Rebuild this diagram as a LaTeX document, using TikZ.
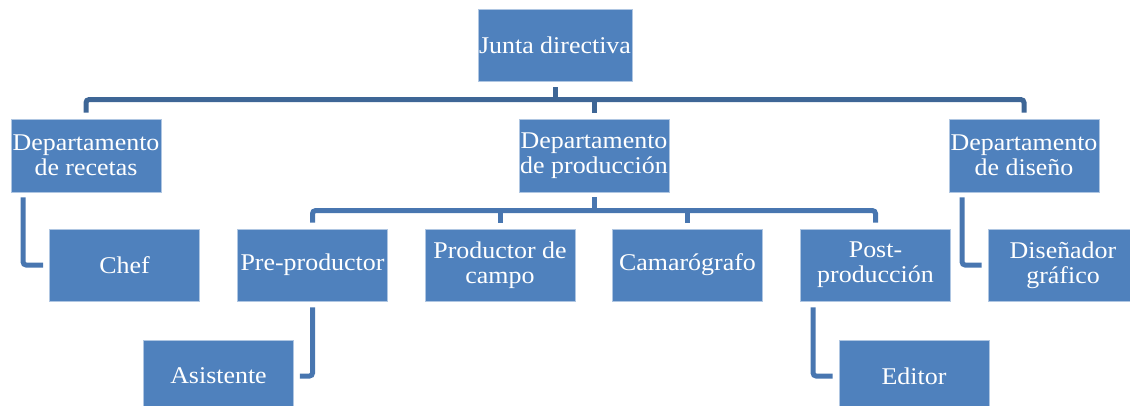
\documentclass[tikz,border=0pt]{standalone}
\usepackage{fontspec}
\setmainfont[FakeStretch=1.08]{Liberation Serif}
\definecolor{boxfill}{RGB}{79,129,189}
\definecolor{boxline}{RGB}{175,198,226}
\definecolor{conA}{RGB}{62,102,150}
\definecolor{conB}{RGB}{72,118,176}
\begin{document}
\begin{tikzpicture}[x=1pt,y=-1pt,
  orgbox/.style={rectangle, fill=boxfill, draw=boxline, line width=0.8pt,
    minimum width=150pt, minimum height=72pt, inner sep=1pt, align=center,
    text=white, font=\fontsize{24}{25}\selectfont},
  linkA/.style={draw=conA, line width=5pt, rounded corners=3pt},
  linkB/.style={draw=conB, line width=5pt, rounded corners=3pt}]
\useasboundingbox (0,0) rectangle (1130,405);
% level 0
\node[orgbox] (junta) at (555,45) {Junta directiva};
% level 1
\node[orgbox, minimum height=73pt] (recetas) at (86,155.5) {Departamento\\de recetas};
\node[orgbox, minimum height=73pt] (prod) at (594,155.5) {Departamento\\de producción};
\node[orgbox, minimum height=73pt] (diseno) at (1024,155.5) {Departamento\\de diseño};
% level 2
\node[orgbox] (chef) at (124.5,265) {Chef};
\node[orgbox] (pre) at (312.5,265) {Pre-productor};
\node[orgbox] (campo) at (500,265) {Productor de\\campo};
\node[orgbox] (cam) at (687.5,265) {Camarógrafo};
\node[orgbox] (post) at (875.5,265) {Post-\\producción};
\node[orgbox] (graf) at (1063,265) {Diseñador\\gráfico};
% level 3
\node[orgbox] (asist) at (218.5,376) {Asistente};
\node[orgbox] (editor) at (914,376) {Editor};
% level-1 connectors
\draw[linkA] ([yshift=6pt]recetas.north) -- ++(0,-13) -| ([yshift=6pt]diseno.north);
\draw[linkA] ([yshift=-6pt]junta.south) -- ++(0,13);
\draw[linkA] ([yshift=6pt]prod.north) -- ++(0,-13);
% level-2 connectors
\draw[linkB] ([yshift=6pt]pre.north) -- ++(0,-12) -| ([yshift=6pt]post.north);
\draw[linkB] ([yshift=-5pt]prod.south) -- ++(0,14);
\draw[linkB] ([yshift=6pt]campo.north) -- ++(0,-12);
\draw[linkB] ([yshift=6pt]cam.north) -- ++(0,-12);
% side connectors
\draw[linkB] ([xshift=12.5pt,yshift=-5pt]recetas.south west) |- ([xshift=-6pt]chef.west);
\draw[linkB] ([yshift=-6pt]pre.south) |- ([xshift=6pt]asist.east);
\draw[linkB] ([xshift=13pt,yshift=-6pt]post.south west) |- ([xshift=-6pt]editor.west);
\draw[linkB] ([xshift=13.5pt,yshift=-5pt]diseno.south west) |- ([xshift=-6pt]graf.west);
\end{tikzpicture}
\end{document}
